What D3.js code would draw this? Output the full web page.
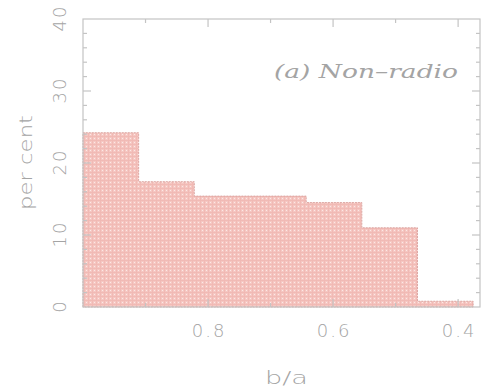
<!DOCTYPE html>
<html>
<head>
<meta charset="utf-8">
<script src="https://cdn.jsdelivr.net/npm/d3@7"></script>
<style>
  body { margin: 0; background: #fff; }
  svg { display: block; }
</style>
</head>
<body>
<div id="chart"></div>
<script>
// histogram bins of b/a (high to low), per cent in each
const binEdges = [1.0, 0.911, 0.822, 0.733, 0.643, 0.554, 0.465, 0.376];
const perCent = [24.2, 17.4, 15.4, 15.4, 14.5, 11.0, 0.8];
const xTicks = [0.8, 0.6, 0.4];
const yTicks = [0, 10, 20, 30, 40];

const width = 481, height = 389;
const margin = {left: 83, right: 1, top: 19, bottom: 82};

const svg = d3.select("#chart").append("svg")
  .attr("width", width)
  .attr("height", height);

const x = d3.scaleLinear().domain([1.0, 0.365]).range([margin.left, width - margin.right]);
const y = d3.scaleLinear().domain([0, 40]).range([height - margin.bottom, margin.top]);

// hatch pattern, soft pink with light dots
const defs = svg.append("defs");
const pat = defs.append("pattern")
  .attr("id", "hatch")
  .attr("patternUnits", "userSpaceOnUse")
  .attr("width", 4).attr("height", 4);
pat.append("rect").attr("width", 4).attr("height", 4).attr("fill", "#f5c7c2");
pat.append("rect").attr("width", 4).attr("height", 1).attr("fill", "#f1bab5");
pat.append("rect").attr("width", 1).attr("height", 4).attr("fill", "#f1bab5");
pat.append("rect").attr("x", 2).attr("y", 2).attr("width", 1).attr("height", 1).attr("fill", "#fce8e6");

// bars as a stepped outline
const pts = [[binEdges[0], 0]];
perCent.forEach((v, i) => {
  pts.push([binEdges[i], v]);
  pts.push([binEdges[i + 1], v]);
});
pts.push([binEdges[binEdges.length - 1], 0]);

const line = d3.line().x(d => x(d[0])).y(d => y(d[1]));
svg.append("path")
  .attr("d", line(pts) + "Z")
  .attr("fill", "url(#hatch)")
  .attr("stroke", "#dca6a2")
  .attr("stroke-width", 1)
  .attr("stroke-dasharray", "2,1");

// frame
const axisCol = "#c4c4c4";
svg.append("rect")
  .attr("x", x.range()[0]).attr("y", y.range()[1])
  .attr("width", x.range()[1] - x.range()[0])
  .attr("height", y.range()[0] - y.range()[1])
  .attr("fill", "none").attr("stroke", axisCol).attr("stroke-width", 1.2);

const tk = svg.append("g").attr("stroke", axisCol).attr("stroke-width", 1.2);
const x0 = x.range()[0], x1 = x.range()[1], yb = y.range()[0], yt = y.range()[1];

// x ticks (inward, top and bottom)
d3.range(0.4, 1.0001, 0.1).forEach(v => {
  const major = Math.abs(Math.round(v * 10) % 2) === 0;
  const len = major ? 8 : 4;
  const px = x(v);
  if (px <= x0 + 0.5) return;
  tk.append("line").attr("x1", px).attr("x2", px).attr("y1", yb).attr("y2", yb - len);
  tk.append("line").attr("x1", px).attr("x2", px).attr("y1", yt).attr("y2", yt + len);
});

// y ticks (inward, left and right)
d3.range(0, 40.001, 2).forEach(v => {
  if (v === 0 || v === 40) return;
  const len = v % 10 === 0 ? 8 : 4;
  tk.append("line").attr("x1", x0).attr("x2", x0 + len).attr("y1", y(v)).attr("y2", y(v));
  tk.append("line").attr("x1", x1).attr("x2", x1 - len).attr("y1", y(v)).attr("y2", y(v));
});

const txtCol = "#a4a4a4";
const font = "'DejaVu Sans', sans-serif";

svg.append("g").selectAll("text")
  .data(xTicks).enter().append("text")
  .attr("x", d => x(d) + 1).attr("y", yb + 30)
  .attr("text-anchor", "middle")
  .attr("font-family", font).attr("font-size", 18)
  .attr("font-weight", 300)
  .attr("letter-spacing", 2)
  .attr("fill", txtCol)
  .text(d => d.toFixed(1));

svg.append("g").selectAll("text")
  .data(yTicks).enter().append("text")
  .attr("transform", d => `translate(66,${y(d) - 1}) rotate(-90)`)
  .attr("text-anchor", "middle")
  .attr("font-family", font).attr("font-size", 18)
  .attr("font-weight", 300)
  .attr("letter-spacing", 2)
  .attr("fill", txtCol)
  .text(d => d);

svg.append("text")
  .attr("x", 265).attr("y", 384)
  .attr("textLength", 43).attr("lengthAdjust", "spacingAndGlyphs")
  .attr("font-family", font).attr("font-size", 17)
  .attr("font-weight", 300)
  .attr("fill", txtCol)
  .text("b/a");

svg.append("text")
  .attr("transform", "translate(32,210) rotate(-90)")
  .attr("textLength", 95).attr("lengthAdjust", "spacingAndGlyphs")
  .attr("font-family", font).attr("font-size", 17)
  .attr("font-weight", 300)
  .attr("fill", txtCol)
  .text("per cent");

svg.append("text")
  .attr("x", 274).attr("y", 78)
  .attr("textLength", 184).attr("lengthAdjust", "spacingAndGlyphs")
  .attr("font-family", "'DejaVu Serif', serif").attr("font-style", "italic")
  .attr("font-size", 19)
  .attr("fill", txtCol)
  .text("(a) Non\u2013radio");
</script>
</body>
</html>
